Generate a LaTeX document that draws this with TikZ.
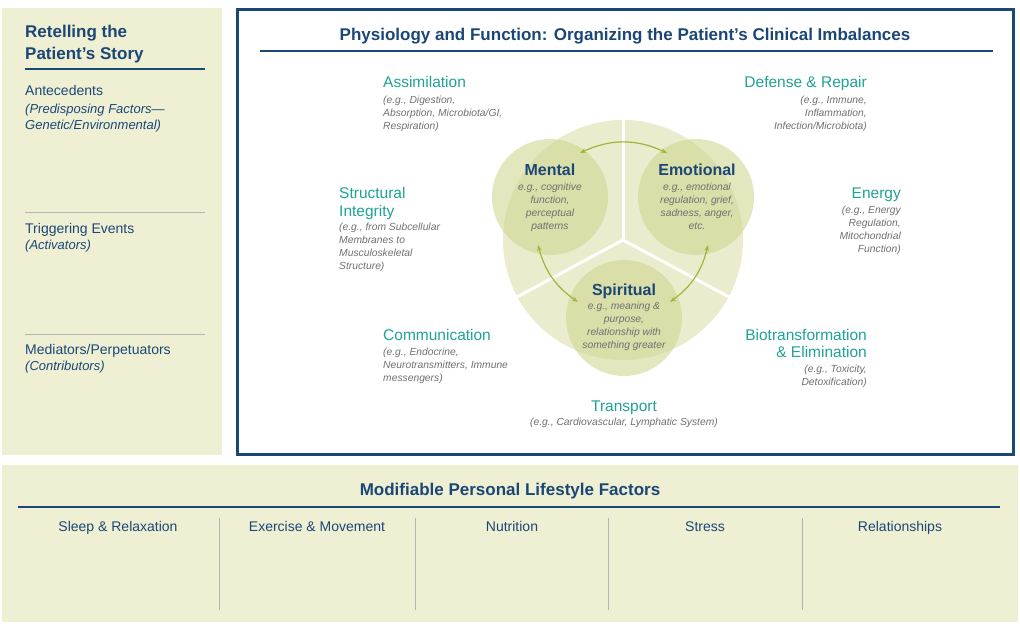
\documentclass[tikz,border=0pt]{standalone}
\usepackage{fontspec}
\setmainfont{Liberation Sans}
\usetikzlibrary{arrows.meta}
\definecolor{navy}{HTML}{1B4777}
\definecolor{teal}{HTML}{1FA396}
\definecolor{panel}{HTML}{EFEFD3}
\definecolor{gtext}{HTML}{707070}
\definecolor{cgreen}{HTML}{CDD48A}
\definecolor{agreen}{HTML}{A3B43A}
\definecolor{sepg}{HTML}{B5B5B0}
\begin{document}
\begin{tikzpicture}[x=1pt,y=-1pt,
  ttl/.style={font=\fontsize{17}{19}\selectfont\bfseries,text=navy},
  lab/.style={font=\fontsize{14}{16}\selectfont,text=navy,anchor=base west,inner sep=0},
  sub/.style={font=\fontsize{13}{15}\selectfont\itshape,text=navy,anchor=base west,inner sep=0},
  sys/.style={font=\fontsize{15.5}{17}\selectfont,text=teal,inner sep=0},
  eg/.style={font=\fontsize{10.3}{13}\selectfont\itshape,text=gtext,inner sep=0},
  cir/.style={fill=cgreen,fill opacity=0.55,draw=none},
  ctl/.style={font=\fontsize{16}{18}\selectfont\bfseries,text=navy,anchor=base,inner sep=0},
  col/.style={font=\fontsize{14}{16}\selectfont,text=navy,anchor=base,inner sep=0},
  arr/.style={{Stealth[length=6pt]}-{Stealth[length=6pt]},draw=agreen,line width=1.2pt},
  sep/.style={draw=sepg,line width=0.8pt}]
\useasboundingbox (0,0) rectangle (1020,635);
\fill[white] (0,0) rectangle (1020,635);
% left panel
\fill[panel] (2,8) rectangle (222,455);
\node[ttl,anchor=base west,inner sep=0,align=left] (rt1) at (25,37) {Retelling the};
\node[ttl,anchor=base west,inner sep=0] (rt2) at (25,59) {Patient’s Story};
\draw[navy,line width=2.2pt] (25,69) -- (205,69);
\node[lab] (ant) at (25,95) {Antecedents};
\node[sub] (ant1) at (25,113) {(Predisposing Factors—};
\node[sub] (ant2) at (25,129) {Genetic/Environmental)};
\draw[sep] (25,212) -- (205,212);
\node[lab] (trg) at (25,233) {Triggering Events};
\node[sub] (trg1) at (25,249) {(Activators)};
\draw[sep] (25,334) -- (205,334);
\node[lab] (med) at (25,354) {Mediators/Perpetuators};
\node[sub] (med1) at (25,370) {(Contributors)};
% main box
\draw[navy,line width=3pt] (237,9) rectangle (1013,454);
\node[ttl,anchor=base,inner sep=0] (mt) at (625,40) {Physiology and Function: Organizing the Patient’s Clinical Imbalances};
\draw[navy,line width=2.2pt] (260,51) -- (993,51);
% central graphic
\fill[cgreen,opacity=0.42] (623,240) circle (120);
\draw[white,line width=3pt] (623,240) -- (623,115);
\draw[white,line width=3pt] (623,240) -- (515,298);
\draw[white,line width=3pt] (623,240) -- (731,298);
\fill[cir] (550,197) circle (58);
\fill[cir] (696,197) circle (58);
\fill[cir] (624,318) circle (58);
\coordinate (a1) at (580,153); \coordinate (a2) at (667,153);
\coordinate (b1) at (538,245); \coordinate (b2) at (578,302);
\coordinate (c1) at (708,245); \coordinate (c2) at (670,302);
\draw[arr] (a1) to[bend left=25] (a2);
\draw[arr] (b1) to[bend right=20] (b2);
\draw[arr] (c1) to[bend left=20] (c2);
\node[ctl] (men) at (550,175) {Mental};
\node[eg,anchor=north,align=center] (men1) at (550,183) {e.g., cognitive\\function,\\perceptual\\patterns};
\node[ctl] (emo) at (697,175) {Emotional};
\node[eg,anchor=north,align=center] (emo1) at (697,183) {e.g., emotional\\regulation, grief,\\sadness, anger,\\etc.};
\node[ctl] (spi) at (624,295) {Spiritual};
\node[eg,anchor=north,align=center] (spi1) at (624,302) {e.g., meaning \&\\purpose,\\relationship with\\something greater};
% systems
\node[sys,anchor=base west] (as) at (383,87) {Assimilation};
\node[eg,anchor=north west,align=left] (as1) at (383,96) {(e.g., Digestion,\\Absorption, Microbiota/GI,\\Respiration)};
\node[sys,anchor=base east] (dr) at (867,87) {Defense \& Repair};
\node[eg,anchor=north east,align=right] (dr1) at (867,96) {(e.g., Immune,\\Inflammation,\\Infection/Microbiota)};
\node[sys,anchor=base west,align=left] (si) at (339,198) {Structural};
\node[sys,anchor=base west] (si2) at (339,216) {Integrity};
\node[eg,anchor=north west,align=left] (si1) at (339,223) {(e.g., from Subcellular\\Membranes to\\Musculoskeletal\\Structure)};
\node[sys,anchor=base east] (en) at (901,198) {Energy};
\node[eg,anchor=north east,align=right] (en1) at (901,206) {(e.g., Energy\\Regulation,\\Mitochondrial\\Function)};
\node[sys,anchor=base west] (co) at (383,340) {Communication};
\node[eg,anchor=north west,align=left] (co1) at (383,348) {(e.g., Endocrine,\\Neurotransmitters, Immune\\messengers)};
\node[sys,anchor=base east] (bi) at (867,340) {Biotransformation};
\node[sys,anchor=base east] (bi2) at (867,357) {\& Elimination};
\node[eg,anchor=north east,align=right] (bi1) at (867,365) {(e.g., Toxicity,\\Detoxification)};
\node[sys,anchor=base] (tr) at (624,411) {Transport};
\node[eg,anchor=north] (tr1) at (624,418) {(e.g., Cardiovascular, Lymphatic System)};
% bottom panel
\fill[panel] (2,465) rectangle (1018,622);
\node[ttl,anchor=base,inner sep=0] (mp) at (510,495) {Modifiable Personal Lifestyle Factors};
\draw[navy,line width=2.2pt] (18,507) -- (1000,507);
\node[col] (c1n) at (118,531) {Sleep \& Relaxation};
\node[col] (c2n) at (317,531) {Exercise \& Movement};
\node[col] (c3n) at (512,531) {Nutrition};
\node[col] (c4n) at (705,531) {Stress};
\node[col] (c5n) at (900,531) {Relationships};
\foreach \x in {219,415,608,802} \draw[sep] (\x,518) -- (\x,610);
\end{tikzpicture}
\end{document}
